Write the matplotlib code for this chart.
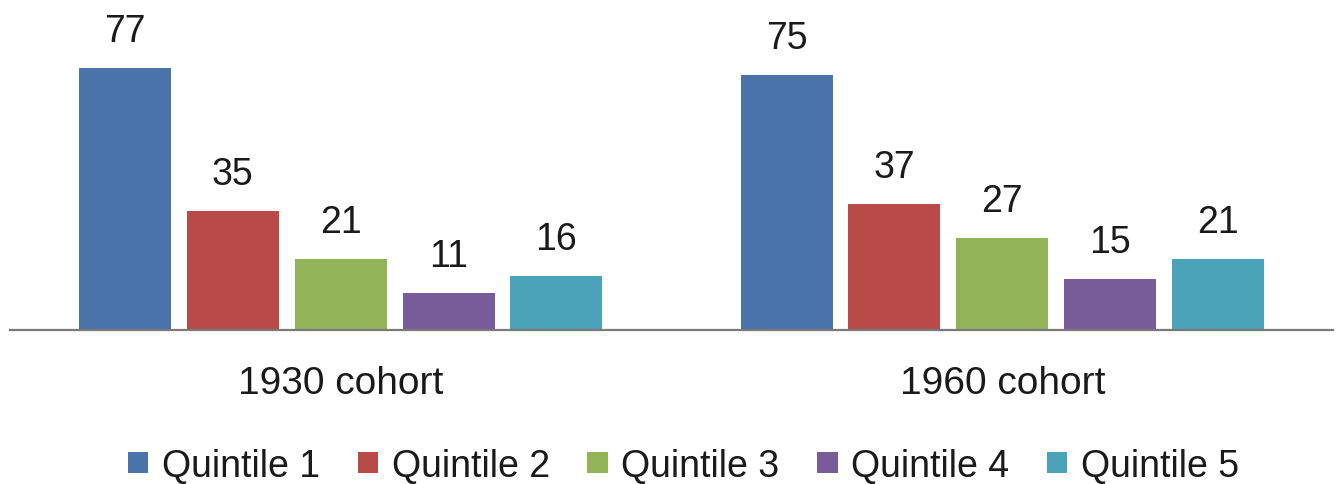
import matplotlib
matplotlib.use("Agg")
import matplotlib.pyplot as plt
import numpy as np

cohorts = ["1930 cohort", "1960 cohort"]
series = ["Quintile 1", "Quintile 2", "Quintile 3", "Quintile 4", "Quintile 5"]
values = {
    "Quintile 1": [77, 75],
    "Quintile 2": [35, 37],
    "Quintile 3": [21, 27],
    "Quintile 4": [11, 15],
    "Quintile 5": [16, 21],
}
colors = ["#4a73a9", "#b84b48", "#93b359", "#775c99", "#4aa3b8"]

plt.rcParams['font.family'] = ['Liberation Sans', 'DejaVu Sans']

W, H = 1340, 485
fig = plt.figure(figsize=(W / 100, H / 100), dpi=100)
base_y = 331
ax = fig.add_axes([10 / W, (H - base_y) / H, 1323 / W, base_y / H])

x = np.arange(len(cohorts))
width = 0.139
step = 0.163
for i, s in enumerate(series):
    xs = x + (i - 2) * step
    bars = ax.bar(xs, values[s], width=width, color=colors[i], label=s, zorder=2)
    for b, v in zip(bars, values[s]):
        ax.annotate(str(v), (b.get_x() + b.get_width() / 2, v),
                    xytext=(0, 19.5), textcoords="offset points",
                    ha="center", va="baseline", fontsize=27, color="#1a1a1a")

ax.set_xlim(-0.5, 1.5)
ax.set_ylim(0, base_y / 3.40)
ax.set_xticks(x)
ax.set_xticklabels(cohorts, fontsize=28, color="#1a1a1a")
ax.tick_params(axis="x", length=0, pad=25)
ax.set_yticks([])
for sp in ["top", "right", "left"]:
    ax.spines[sp].set_visible(False)
ax.spines["bottom"].set_color("#7a7a7a")
ax.spines["bottom"].set_linewidth(1.6)
ax.spines["bottom"].set_zorder(3)

fig.legend(loc="center", bbox_to_anchor=(0.510, 1 - 467 / H), ncol=5,
           frameon=False, fontsize=27, handlelength=0.55, handleheight=0.5,
           handletextpad=0.36, columnspacing=1.0, labelcolor="#1a1a1a")

fig.savefig("out.png", dpi=100)
